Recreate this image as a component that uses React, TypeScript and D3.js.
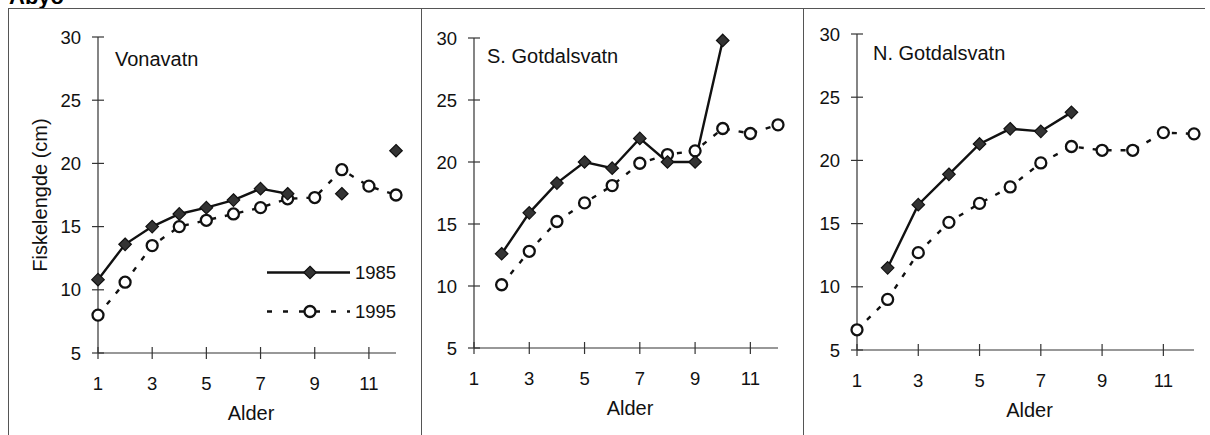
import React, { useEffect, useRef } from 'react';
import * as d3 from 'd3';

// Age (Alder) on the x axis
const ages = [1, 2, 3, 4, 5, 6, 7, 8, 9, 10, 11, 12];
const xTicks = [1, 3, 5, 7, 9, 11];
const yTicks = [5, 10, 15, 20, 25, 30];
const seriesNames = ['1985', '1995'];
const lakeNames = ['Vonavatn', 'S. Gotdalsvatn', 'N. Gotdalsvatn'];

// Fish length (cm), null = no fish in that age class
const vona1985 = [10.8, 13.6, 15.0, 16.0, 16.5, 17.1, 18.0, 17.6, null, 17.6, null, 21.0];
const vona1995 = [8.0, 10.6, 13.5, 15.0, 15.5, 16.0, 16.5, 17.2, 17.3, 19.5, 18.2, 17.5];
const sGot1985 = [null, 12.6, 15.9, 18.3, 20.0, 19.5, 21.9, 20.0, 20.0, 29.8, null, null];
const sGot1995 = [null, 10.1, 12.8, 15.2, 16.7, 18.1, 19.9, 20.6, 20.9, 22.7, 22.3, 23.0];
const nGot1985 = [null, 11.5, 16.5, 18.9, 21.3, 22.5, 22.3, 23.8, null, null, null, null];
const nGot1995 = [6.6, 9.0, 12.7, 15.1, 16.6, 17.9, 19.8, 21.1, 20.8, 20.8, 22.2, 22.1];

const panelData = [
  [vona1985, vona1995],
  [sGot1985, sGot1995],
  [nGot1985, nGot1995],
];

// pixel layout of each panel (plot area)
const panels = [
  { x0: 98, x1: 396, yTop: 37, yBot: 353, titleX: 115, titleY: 66 },
  { x0: 474, x1: 778, yTop: 38, yBot: 348, titleX: 487, titleY: 63 },
  { x0: 857, x1: 1194, yTop: 34, yBot: 350, titleX: 873, titleY: 60 },
];

const FONT = 'Arial, "Liberation Sans", sans-serif';

const App: React.FC = () => {
  const svgRef = useRef<SVGSVGElement>(null);

  useEffect(() => {
    if (!svgRef.current) return;
    const svg = d3.select(svgRef.current).html('');

    svg.append('rect').attr('width', 1210).attr('height', 435).attr('fill', '#fff');

    // heading, cut off at the very top like the scan
    svg.append('text')
      .attr('x', 9).attr('y', 4)
      .style('font-family', FONT).style('font-size', '22px').style('font-weight', 'bold')
      .text('Abyo');

    // outer frame + dividers
    const frame = '#555';
    svg.append('line').attr('x1', 8).attr('x2', 1205).attr('y1', 8.5).attr('y2', 8.5).attr('stroke', frame);
    [8.5, 421.5, 803.5].forEach(x => {
      svg.append('line').attr('x1', x).attr('x2', x).attr('y1', 8).attr('y2', 435).attr('stroke', frame);
    });

    const diamond = d3.symbol().type(d3.symbolDiamond2).size(100);

    panels.forEach((p, i) => {
      const x = d3.scaleLinear().domain([1, 12]).range([p.x0, p.x1]);
      const y = d3.scaleLinear().domain([5, 30]).range([p.yBot, p.yTop]);
      const g = svg.append('g');

      // axes
      g.append('line').attr('x1', p.x0).attr('x2', p.x0).attr('y1', p.yTop).attr('y2', p.yBot)
        .attr('stroke', '#333').attr('stroke-width', 1.2);
      g.append('line').attr('x1', p.x0).attr('x2', p.x1).attr('y1', p.yBot).attr('y2', p.yBot)
        .attr('stroke', '#333').attr('stroke-width', 1.2);

      yTicks.forEach(t => {
        g.append('line').attr('x1', p.x0 - 6).attr('x2', p.x0 + 6).attr('y1', y(t)).attr('y2', y(t))
          .attr('stroke', '#333').attr('stroke-width', 1.2);
        g.append('text').attr('x', p.x0 - 17).attr('y', y(t)).attr('dy', '.36em')
          .attr('text-anchor', 'end')
          .style('font-family', FONT).style('font-size', '18.5px').style('fill', '#111')
          .text(t);
      });
      xTicks.forEach(t => {
        g.append('line').attr('x1', x(t)).attr('x2', x(t)).attr('y1', p.yBot - 6).attr('y2', p.yBot + 6)
          .attr('stroke', '#333').attr('stroke-width', 1.2);
        g.append('text').attr('x', x(t)).attr('y', p.yBot + 30).attr('dy', '.36em')
          .attr('text-anchor', 'middle')
          .style('font-family', FONT).style('font-size', '18.5px').style('fill', '#111')
          .text(t);
      });

      g.append('text').attr('x', (p.x0 + p.x1) / 2 + 4).attr('y', p.yBot + 60).attr('dy', '.36em')
        .attr('text-anchor', 'middle')
        .style('font-family', FONT).style('font-size', '20px').style('fill', '#111')
        .text('Alder');

      g.append('text').attr('x', p.titleX).attr('y', p.titleY)
        .style('font-family', FONT).style('font-size', '20px').style('fill', '#111')
        .text(lakeNames[i]);

      const [s85, s95] = panelData[i];
      const line = d3.line<number | null>()
        .defined(d => d != null)
        .x((_, k) => x(ages[k]))
        .y(d => y(d as number));

      // 1995: dashed line, open circles
      g.append('path').datum(s95).attr('d', line).attr('fill', 'none')
        .attr('stroke', '#111').attr('stroke-width', 2.4).attr('stroke-dasharray', '5,9');
      // 1985: solid line, filled diamonds
      g.append('path').datum(s85).attr('d', line).attr('fill', 'none')
        .attr('stroke', '#111').attr('stroke-width', 2.4);

      s95.forEach((v, k) => {
        if (v == null) return;
        g.append('circle').attr('cx', x(ages[k])).attr('cy', y(v)).attr('r', 5.5)
          .attr('fill', '#fff').attr('stroke', '#111').attr('stroke-width', 2.3);
      });
      s85.forEach((v, k) => {
        if (v == null) return;
        g.append('path').attr('d', diamond).attr('transform', `translate(${x(ages[k])},${y(v)})`)
          .attr('fill', '#333').attr('stroke', '#111').attr('stroke-width', 1.2);
      });

      if (i === 0) {
        // y axis title
        svg.append('text')
          .attr('transform', 'translate(47,195) rotate(-90)')
          .attr('text-anchor', 'middle')
          .style('font-family', FONT).style('font-size', '20px').style('fill', '#111')
          .text('Fiskelengde (cm)');

        // legend
        const lg = svg.append('g');
        [272.5, 311.5].forEach((ly, j) => {
          lg.append('line').attr('x1', 267).attr('x2', 350).attr('y1', ly).attr('y2', ly)
            .attr('stroke', '#111').attr('stroke-width', 2.4)
            .attr('stroke-dasharray', j === 1 ? '5,11' : null);
          if (j === 0) {
            lg.append('path').attr('d', diamond).attr('transform', `translate(310,${ly})`)
              .attr('fill', '#333').attr('stroke', '#111').attr('stroke-width', 1.2);
          } else {
            lg.append('circle').attr('cx', 310).attr('cy', ly).attr('r', 5.5)
              .attr('fill', '#fff').attr('stroke', '#111').attr('stroke-width', 2.3);
          }
          lg.append('text').attr('x', 355).attr('y', ly).attr('dy', '.36em')
            .style('font-family', FONT).style('font-size', '18.5px').style('fill', '#111')
            .text(seriesNames[j]);
        });
      }
    });
  }, []);

  return (
    <div style={{ position: 'absolute', left: 0, top: 0 }}>
      <svg ref={svgRef} width={1210} height={435} style={{ display: 'block' }} />
    </div>
  );
};

export default App;
